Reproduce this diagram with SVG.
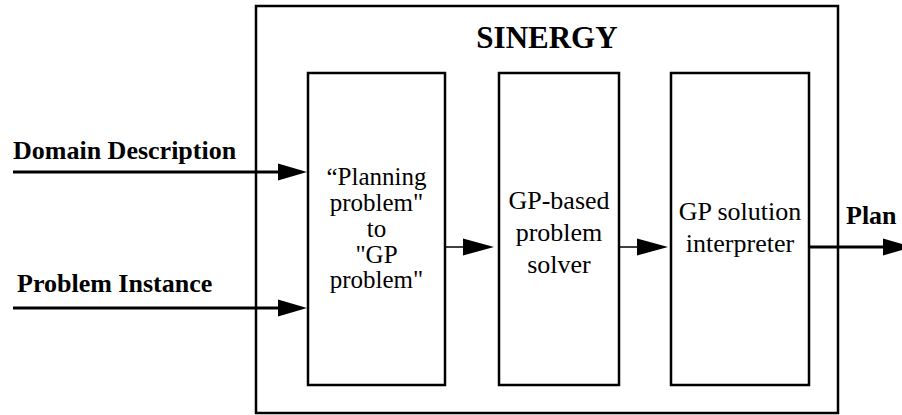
<svg xmlns="http://www.w3.org/2000/svg" width="902" height="415" viewBox="0 0 902 415">
<style>
.box{fill:#fff;stroke:#000;stroke-width:2.5}
.lbl{font-family:"Liberation Serif","Times New Roman",serif;font-size:26px;fill:#000;text-anchor:middle}
.sm{font-size:25px}
.b{font-weight:bold;text-anchor:start}
.thick{stroke:#000;stroke-width:3;fill:none}
.thin{stroke:#000;stroke-width:1.5;fill:none}
.head{fill:#000}
</style>
<rect width="902" height="415" fill="#fff"/>
<g id="sinergy">
<rect class="box" x="256" y="6" width="582" height="407"/>
<text class="lbl" x="547" y="48" style="font-weight:bold;font-size:31px">SINERGY</text>
</g>
<g id="converter">
<rect class="box" x="308" y="73" width="137" height="312"/>
<text class="lbl sm" x="376.5" y="185">“Planning</text>
<text class="lbl sm" x="376.5" y="211">problem"</text>
<text class="lbl sm" x="376.5" y="237">to</text>
<text class="lbl sm" x="376.5" y="263">"GP</text>
<text class="lbl sm" x="376.5" y="288">problem"</text>
</g>
<g id="solver">
<rect class="box" x="499" y="73" width="120" height="312"/>
<text class="lbl" x="559" y="209">GP-based</text>
<text class="lbl" x="559" y="241">problem</text>
<text class="lbl" x="559" y="273">solver</text>
</g>
<g id="interpreter">
<rect class="box" x="671" y="73" width="138" height="312"/>
<text class="lbl" x="740" y="220">GP solution</text>
<text class="lbl" x="740" y="252">interpreter</text>
</g>
<g id="labels">
<text class="lbl b" x="13" y="159">Domain Description</text>
<text class="lbl b" x="17" y="292">Problem Instance</text>
<text class="lbl b" x="846" y="224">Plan</text>
</g>
<g id="connectors">
<line class="thick" x1="13" y1="172" x2="280" y2="172"/>
<polygon class="head" points="278,163.5 307,172 278,180.5"/>
<line class="thick" x1="13" y1="308" x2="280" y2="308"/>
<polygon class="head" points="278,299.5 307,308 278,316.5"/>
<line class="thin" x1="445" y1="247" x2="465" y2="247"/>
<polygon class="head" points="463,238.5 494,247 463,255.5"/>
<line class="thin" x1="619" y1="247" x2="639" y2="247"/>
<polygon class="head" points="637,238.5 668,247 637,255.5"/>
<line class="thick" x1="808" y1="247" x2="885" y2="247"/>
<polygon class="head" points="883,238.5 912,247 883,255.5"/>
</g>
</svg>
